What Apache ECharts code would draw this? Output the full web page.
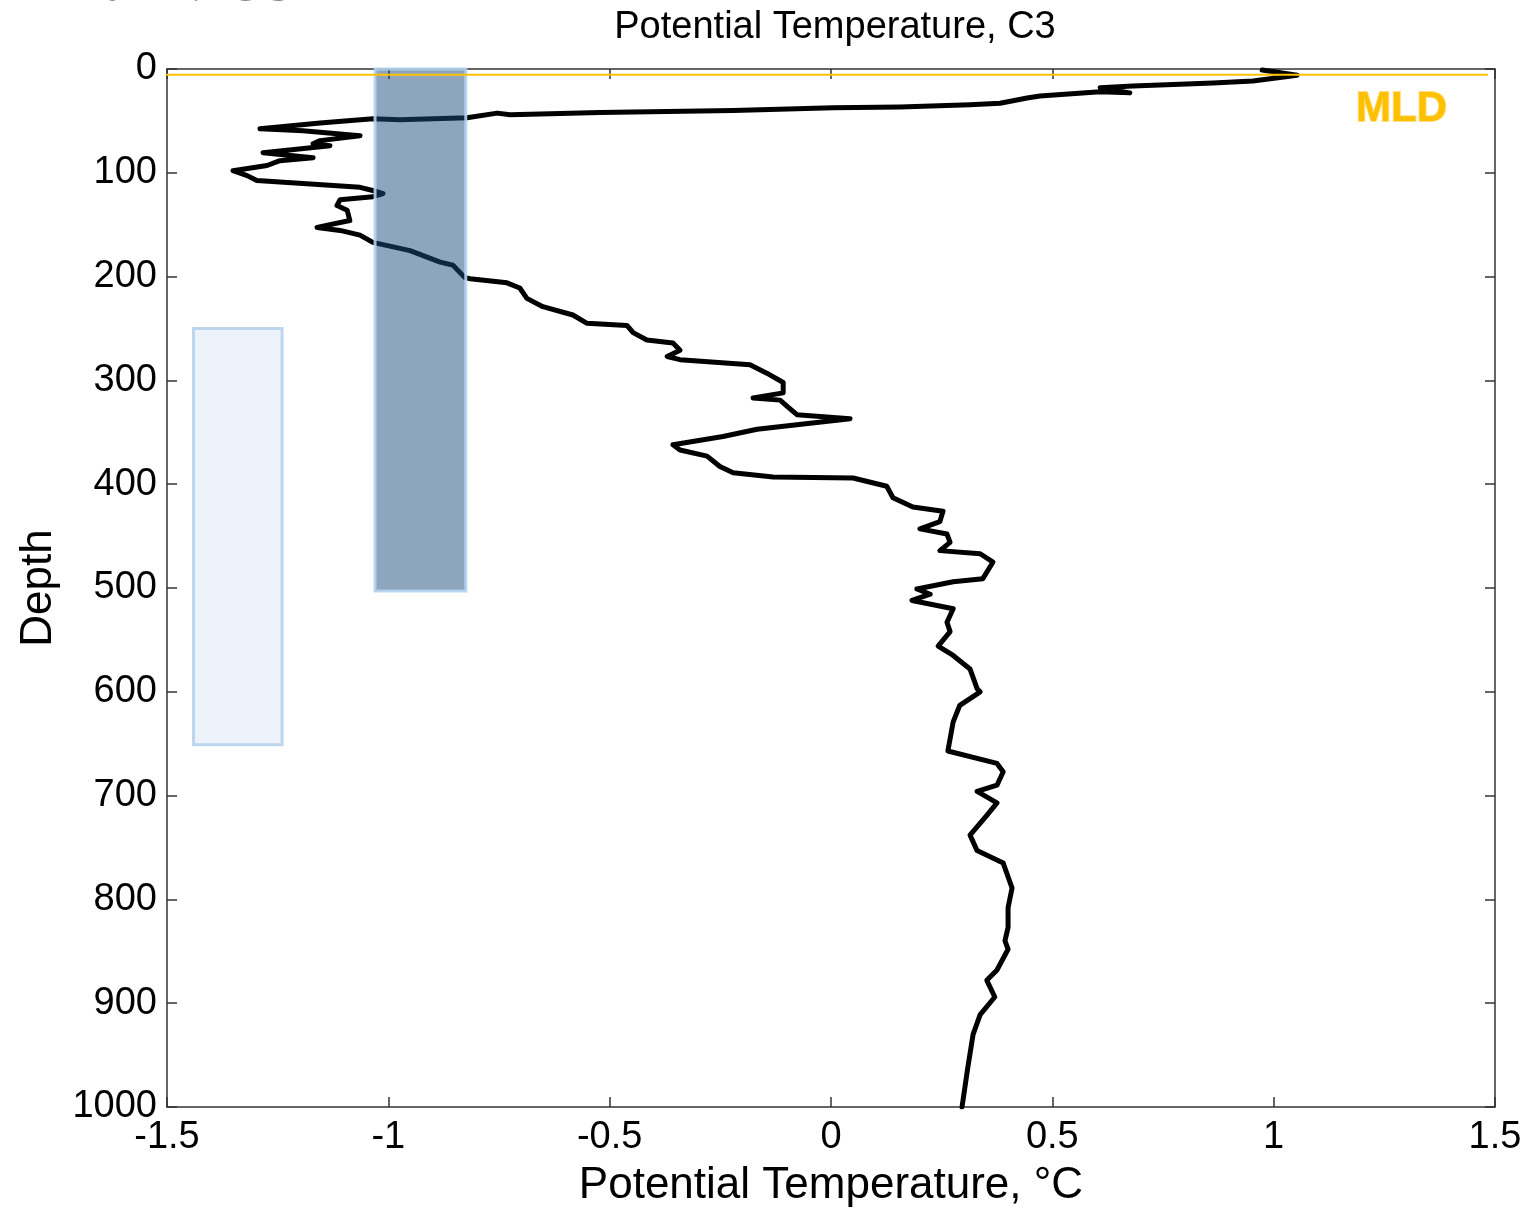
<!DOCTYPE html>
<html>
<head>
<meta charset="utf-8">
<script src="https://cdn.jsdelivr.net/npm/echarts@6/dist/echarts.min.js"></script>
<style>
html,body{margin:0;padding:0;background:#fff;}
#chart{width:1530px;height:1213px;}
</style>
</head>
<body>
<div id="chart"></div>
<script>
// Profile: depth (m) and potential temperature (°C)
const depths = [1,6,11.5,13.4,16.3,18,23,22,26,28,33,34.5,36.5,37.4,40,42,44,42.5,47,49,48,52,57.6,59.5,64.3,69,72,74,80.6,85.4,88.3,93,98,102.7,107.5,110.4,114,117,120,123,126,131.5,136,146,152.6,155.5,160,167,175,186,189,201,202,206,211,221,229,237,245,247,254,261,264,271,277,280,285,293,302,312,317,319,325,333,337,347,354,362,367,373,383,389,393,394,402,413,422,426,436,443,448,456,464,467,475,491,494,501,506,512,520,533,542,556,565,578,597,600,613,629,657,669,677,690,696,707,719,738,753,765,789,808,827,840,848,868,878,894,911,930,962,1000];
const temps = [0.974,1.053,0.953,0.863,0.682,0.608,0.675,0.608,0.472,0.443,0.382,0.314,0.156,0.005,-0.221,-0.522,-0.725,-0.754,-0.822,-0.974,-1.035,-1.154,-1.290,-1.193,-1.064,-1.154,-1.170,-1.132,-1.283,-1.170,-1.245,-1.274,-1.351,-1.319,-1.297,-1.193,-1.064,-1.035,-1.012,-1.035,-1.109,-1.116,-1.093,-1.087,-1.161,-1.109,-1.064,-1.035,-0.951,-0.883,-0.854,-0.827,-0.815,-0.732,-0.703,-0.687,-0.651,-0.583,-0.551,-0.461,-0.447,-0.416,-0.357,-0.341,-0.370,-0.341,-0.183,-0.145,-0.108,-0.108,-0.176,-0.115,-0.099,-0.077,0.043,-0.167,-0.244,-0.357,-0.341,-0.280,-0.251,-0.221,-0.131,0.050,0.126,0.140,0.185,0.253,0.246,0.201,0.262,0.269,0.246,0.337,0.366,0.343,0.276,0.194,0.224,0.183,0.276,0.262,0.269,0.242,0.276,0.314,0.330,0.337,0.291,0.276,0.264,0.375,0.389,0.375,0.330,0.375,0.352,0.314,0.330,0.389,0.409,0.400,0.400,0.393,0.400,0.375,0.352,0.370,0.337,0.321,0.309,0.296];

// Shaded boxes: [tempMin, tempMax, depthTop, depthBottom]
const darkBox = [-1.03, -0.825, 0, 503];
const lightBox = [-1.44, -1.24, 250, 651];

// Mixed layer depth (m) and its extent in temperature
const mldDepth = 5.5;
const mldSpan = [-1.516, 1.484];

const xTicks = {min: -1.5, max: 1.5, interval: 0.5};
const yTicks = {min: 0, max: 1000, interval: 100};

const profile = depths.map((d, i) => [temps[i], d]);

const chart = echarts.init(document.getElementById('chart'), null, {width: 1530, height: 1213});
const FONT = 'Liberation Sans, Arial, sans-serif';
const axisLine = {show: true, onZero: false, lineStyle: {color: '#333', width: 1.5}};
const tick = {show: true, inside: true, length: 10, lineStyle: {color: '#333', width: 1.5}};

function boxItem(style) {
  return function (params, api) {
    const p0 = api.coord([api.value(0), api.value(2)]);
    const p1 = api.coord([api.value(1), api.value(3)]);
    return {
      type: 'rect',
      shape: {x: p0[0], y: p0[1], width: p1[0] - p0[0], height: p1[1] - p0[1]},
      style: style
    };
  };
}

chart.setOption({
  animation: false,
  backgroundColor: '#fff',
  title: {
    text: 'Potential Temperature, C3',
    left: 830, top: 4, textAlign: 'center',
    textStyle: {fontFamily: FONT, fontSize: 38, fontWeight: 'normal', color: '#000'}
  },
  grid: {left: 167, top: 69, width: 1328, height: 1046, containLabel: false},
  xAxis: [
    {type: 'value', position: 'bottom', min: xTicks.min, max: xTicks.max, interval: xTicks.interval,
     axisLine: axisLine, axisTick: tick, splitLine: {show: false},
     axisLabel: {fontFamily: FONT, fontSize: 38, color: '#000', margin: 12,
                 formatter: v => String(v)},
     name: 'Potential Temperature, °C', nameLocation: 'middle', nameGap: 57,
     nameTextStyle: {fontFamily: FONT, fontSize: 44, color: '#000'}},
    {type: 'value', position: 'top', min: xTicks.min, max: xTicks.max, interval: xTicks.interval,
     axisLine: axisLine, axisTick: tick, splitLine: {show: false}, axisLabel: {show: false}}
  ],
  yAxis: [
    {type: 'value', position: 'left', inverse: true, min: yTicks.min, max: yTicks.max, interval: yTicks.interval,
     axisLine: axisLine, axisTick: tick, splitLine: {show: false},
     axisLabel: {fontFamily: FONT, fontSize: 38, color: '#000', margin: 10,
                 formatter: v => String(v)},
     name: 'Depth', nameLocation: 'middle', nameGap: 106, nameRotate: 90,
     nameTextStyle: {fontFamily: FONT, fontSize: 44, color: '#000'}},
    {type: 'value', position: 'right', inverse: true, min: yTicks.min, max: yTicks.max, interval: yTicks.interval,
     axisLine: axisLine, axisTick: tick, splitLine: {show: false}, axisLabel: {show: false}}
  ],
  graphic: [
    {type: 'text', left: 'auto', right: 1530 - 296, top: -46,
     style: {text: '2011: C3', font: 'bold 61px "Liberation Serif", serif', fill: '#000', textAlign: 'right'}},
    {type: 'text', left: 1355, top: 87,
     style: {text: 'MLD', font: 'bold 42px "Liberation Sans", Arial, sans-serif', fill: '#ffc000',
             stroke: 'rgba(255,220,120,0.9)', lineWidth: 2}}
  ],
  series: [
    {type: 'custom', xAxisIndex: 0, yAxisIndex: 0, z: 1, clip: false,
     renderItem: boxItem({fill: '#edf3fa', stroke: '#bcd6ee', lineWidth: 3}),
     data: [lightBox]},
    {type: 'line', xAxisIndex: 0, yAxisIndex: 0, z: 2, data: profile,
     showSymbol: false, symbol: 'none', smooth: false,
     lineStyle: {color: '#000', width: 5, join: 'round', cap: 'round'}},
    {type: 'custom', xAxisIndex: 0, yAxisIndex: 0, z: 3, clip: false,
     renderItem: boxItem({fill: 'rgba(30,77,124,0.5)', stroke: 'rgba(180,210,238,0.9)', lineWidth: 3}),
     data: [darkBox]},
    {type: 'line', xAxisIndex: 0, yAxisIndex: 0, z: 4, clip: false,
     data: [[mldSpan[0], mldDepth], [mldSpan[1], mldDepth]],
     showSymbol: false, symbol: 'none',
     lineStyle: {color: '#ffc000', width: 2}}
  ]
});
</script>
</body>
</html>
